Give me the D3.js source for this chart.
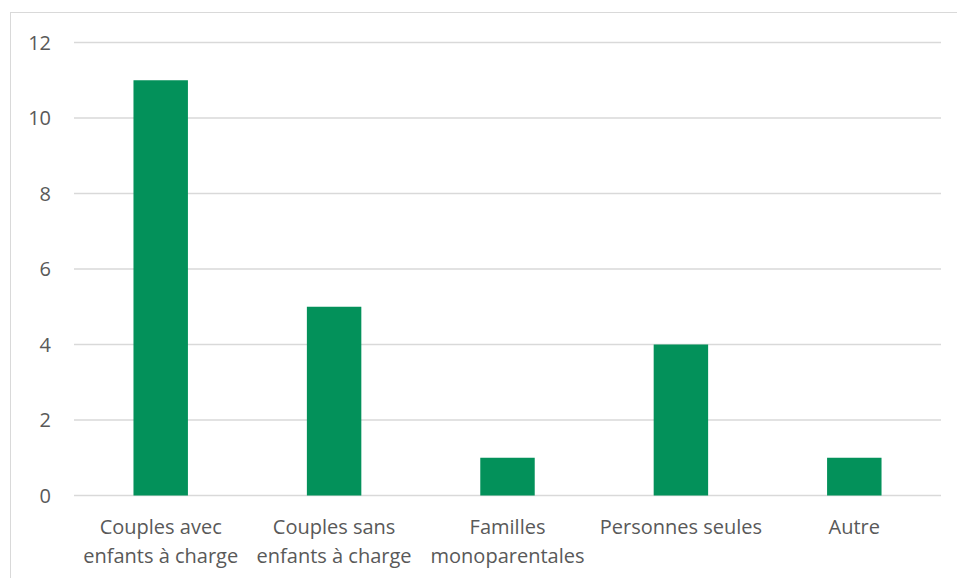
<!DOCTYPE html>
<html>
<head>
<meta charset="utf-8">
<script src="https://cdn.jsdelivr.net/npm/d3@7"></script>
<style>
  body { margin: 0; background: #fff; }
  svg text { font-family: "Open Sans", sans-serif; fill: #595959; }
</style>
</head>
<body>
<div id="chart"></div>
<script>
// categories (two label lines each) and values
var categories = ["Couples avec enfants à charge", "Couples sans enfants à charge", "Familles monoparentales", "Personnes seules", "Autre"];
var labelLines = [["Couples avec", "enfants à charge"], ["Couples sans", "enfants à charge"], ["Familles", "monoparentales"], ["Personnes seules"], ["Autre"]];
var values = [11, 5, 1, 4, 1];
var yTicks = [0, 2, 4, 6, 8, 10, 12];

var width = 957, height = 578;
var svg = d3.select("#chart").append("svg").attr("width", width).attr("height", height);

// chart frame
svg.append("rect").attr("x", 10.5).attr("y", 12.5).attr("width", 960).attr("height", 600)
   .attr("fill", "none").attr("stroke", "#d9d9d9").attr("stroke-width", 1);

var xScale = d3.scaleBand().domain(categories).range([74, 941]).paddingInner(0.686).paddingOuter(0.343);
var yScale = d3.scaleLinear().domain([0, 12]).range([495.5, 42.5]);

// gridlines
svg.selectAll(".grid").data(yTicks).enter().append("line")
   .attr("class", "grid")
   .attr("x1", 74).attr("x2", 941)
   .attr("y1", d => yScale(d)).attr("y2", d => yScale(d))
   .attr("stroke", "#d9d9d9").attr("stroke-width", 1.3);

// y tick labels
svg.selectAll(".ylab").data(yTicks).enter().append("text")
   .attr("class", "ylab")
   .attr("x", 51).attr("y", d => yScale(d)).attr("dy", "0.35em")
   .attr("text-anchor", "end").style("font-size", "20px")
   .text(d => d);

// bars
svg.selectAll(".bar").data(values).enter().append("rect")
   .attr("class", "bar")
   .attr("x", (d, i) => xScale(categories[i]))
   .attr("width", xScale.bandwidth())
   .attr("y", d => yScale(d))
   .attr("height", d => yScale(0) - yScale(d))
   .attr("fill", "#03915a");

// x labels
var xl = svg.selectAll(".xlab").data(labelLines).enter().append("text")
   .attr("class", "xlab")
   .attr("text-anchor", "middle").style("font-size", "20px")
   .attr("transform", (d, i) => "translate(" + (xScale(categories[i]) + xScale.bandwidth() / 2) + ",0)");
xl.selectAll("tspan").data(d => d).enter().append("tspan")
   .attr("x", 0).attr("y", (d, j) => 533.5 + j * 29.5)
   .text(d => d);
</script>
</body>
</html>
